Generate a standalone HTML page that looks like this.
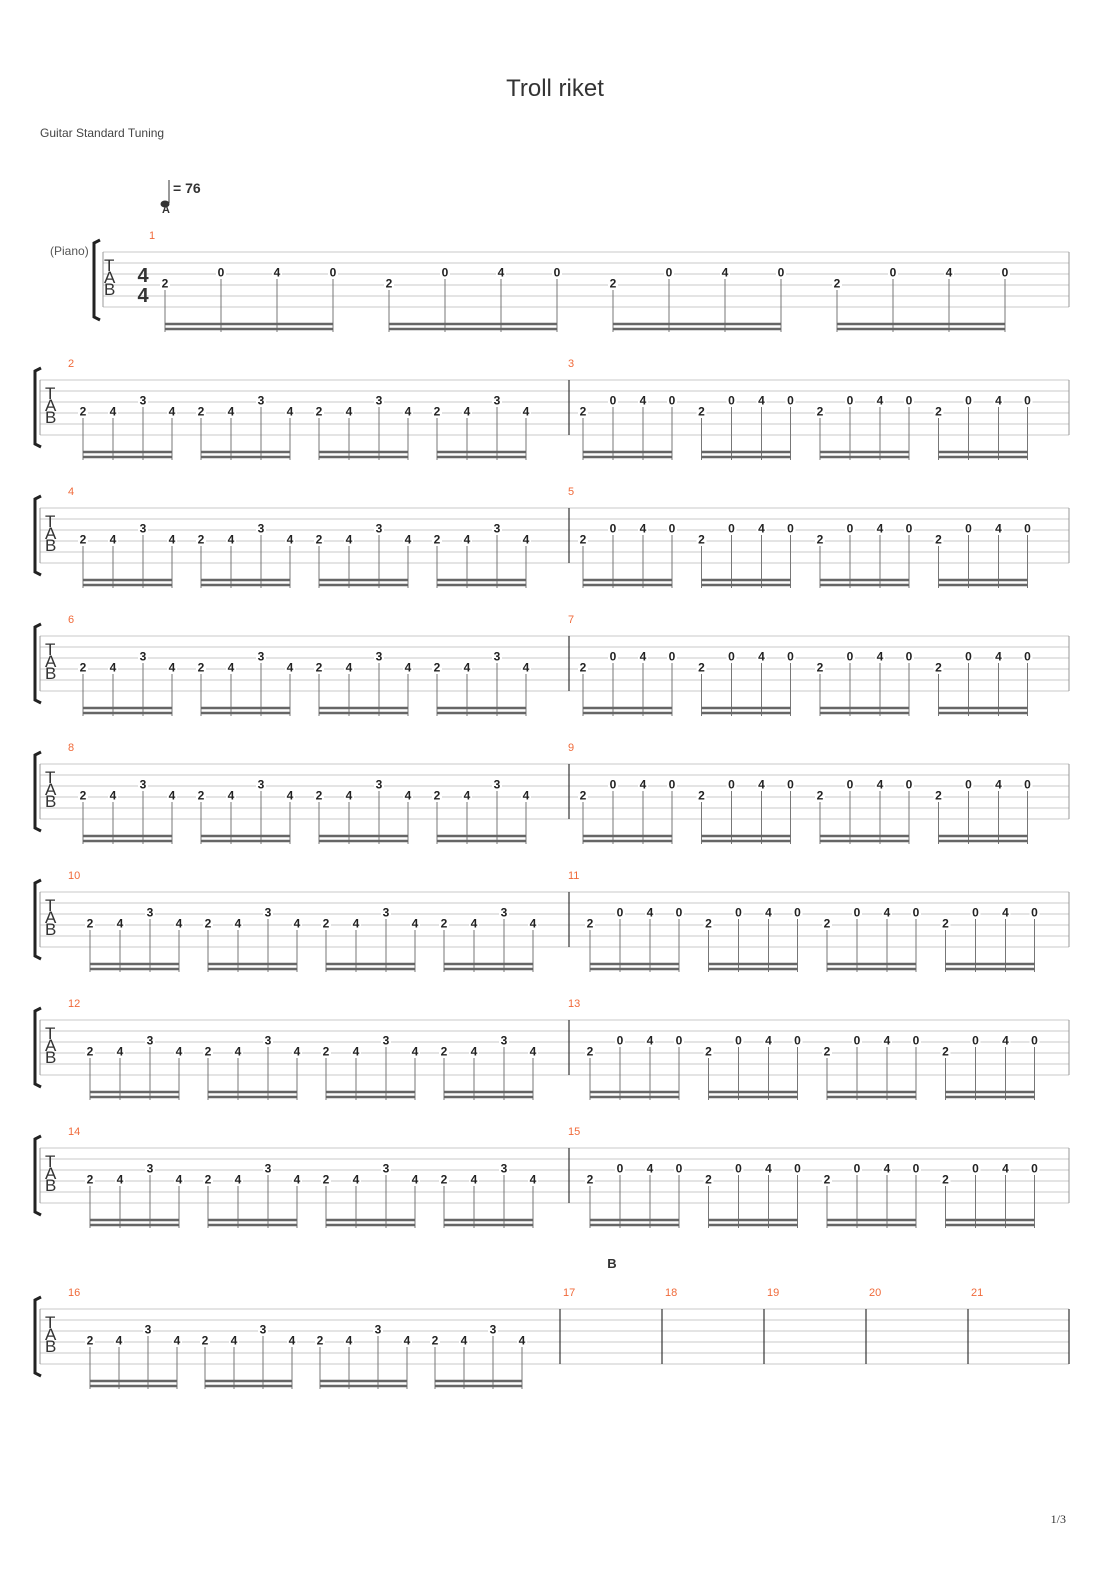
<!DOCTYPE html>
<html><head><meta charset="utf-8">
<style>
html,body{margin:0;padding:0;background:#fff;}
svg{display:block;}
</style></head>
<body>
<svg id="s" width="1110" height="1570" xmlns="http://www.w3.org/2000/svg" font-family="Liberation Sans, sans-serif">
<rect width="1110" height="1570" fill="#fff"/>
<text x="555" y="96" text-anchor="middle" font-size="24" fill="#333">Troll riket</text>
<text x="40" y="137" font-size="12" fill="#444">Guitar Standard Tuning</text>
<line x1="169" y1="180" x2="169" y2="203" stroke="#333" stroke-width="1"/>
<ellipse cx="165" cy="204" rx="4.5" ry="3.5" fill="#333"/>
<text x="173" y="193" font-size="14" font-weight="bold" fill="#333">= 76</text>
<text x="166" y="213" text-anchor="middle" font-size="11" font-weight="bold" fill="#333">A</text>
<text x="612" y="1268" text-anchor="middle" font-size="13" font-weight="bold" fill="#333">B</text>
<text x="50" y="255" font-size="12" fill="#555">(Piano)</text>
<text x="1066" y="1523" text-anchor="end" font-size="12" font-family="Liberation Serif, serif" fill="#333">1/3</text>
<g id="g"></g>
</svg>
<script>
var g=document.getElementById('g'),h='';
function L(x1,y1,x2,y2,c,w){h+='<line x1="'+x1+'" y1="'+y1+'" x2="'+x2+'" y2="'+y2+'" stroke="'+c+'" stroke-width="'+w+'"/>';}
function T(x,y,t,sz,c,b,a){h+='<text x="'+x+'" y="'+y+'" font-size="'+sz+'" fill="'+c+'"'+(b?' font-weight="bold"':'')+(a?' text-anchor="'+a+'"':'')+'>'+t+'</text>';}
function staff(top,x0,x1){for(var i=0;i<6;i++)L(x0,top+i*11,x1,top+i*11,'#c8c8c8',1);}
function bracket(x,top){var y0=top-12,y1=top+67;h+='<path d="M'+(x+6)+' '+y0+' L'+x+' '+(y0+3)+' L'+x+' '+(y1-3)+' L'+(x+6)+' '+y1+'" fill="none" stroke="#222" stroke-width="3"/>';}
function tab(x,top){T(x,top+19,'T',17,'#333');T(x,top+31,'A',17,'#333');T(x,top+43,'B',17,'#333');}
function note(x,top,s,v){var y=top+(s-1)*11-2;h+='<rect x="'+(x-5)+'" y="'+(y-6)+'" width="10" height="12" fill="#fff"/>';T(x,y+4.5,v,12,'#222',1,'middle');return y;}
function group(xs,top,strs,vals){for(var i=0;i<4;i++){var y=note(xs[i],top,strs[i],vals[i]);L(xs[i],y+7,xs[i],top+80,'#777',1);}
 L(xs[0],top+72,xs[3],top+72,'#666',2.5);L(xs[0],top+77,xs[3],top+77,'#666',2.5);}
var A=[4,4,3,4],Av=['2','4','3','4'],Bs=[4,3,3,3],Bv=['2','0','4','0'];
var t=252;staff(t,103,1069);L(103,t,103,t+55,'#999',1);L(1069,t,1069,t+55,'#999',1);
h+='<path d="M100 240 L94 243 L94 317 L100 320" fill="none" stroke="#222" stroke-width="3"/>';
tab(104,t);T(143,t+30,'4',20,'#333',1,'middle');T(143,t+50,'4',20,'#333',1,'middle');
T(152,t-13,'1',11,'#f06a3a',0,'middle');
for(var k=0;k<4;k++){var b=165+224*k;group([b,b+56,b+112,b+168],t,Bs,['2','0','4','0']);}
var tops=[380,508,636,764,892,1020,1148];
for(var j=0;j<7;j++){t=tops[j];staff(t,40,1069);L(40,t,40,t+55,'#999',1);L(569,t,569,t+55,'#333',1.2);L(1069,t,1069,t+55,'#999',1);
 bracket(35,t);tab(45,t);var m=2+2*j,sh=j>=4?7:0;
 T(68,t-13,m,11,'#f06a3a');T(568,t-13,m+1,11,'#f06a3a');
 for(var k=0;k<4;k++){var b=83+sh+118*k;group([b,b+30,b+60,b+89],t,A,Av);}
 for(var k=0;k<4;k++){var b=583+sh+118.5*k;group([b,b+30,b+60,b+89],t,Bs,Bv);}
}
t=1309;staff(t,40,1069);L(40,t,40,t+55,'#999',1);bracket(35,t);tab(45,t);T(68,t-13,'16',11,'#f06a3a');
var bars=[560,662,764,866,968,1069];for(var i=0;i<6;i++){L(bars[i],t,bars[i],t+55,'#333',1.2);if(i<5)T(bars[i]+3,t-13,17+i,11,'#f06a3a');}
for(var k=0;k<4;k++){var b=90+115*k;group([b,b+29,b+58,b+87],t,A,Av);}
g.innerHTML=h;
</script>
</body></html>
